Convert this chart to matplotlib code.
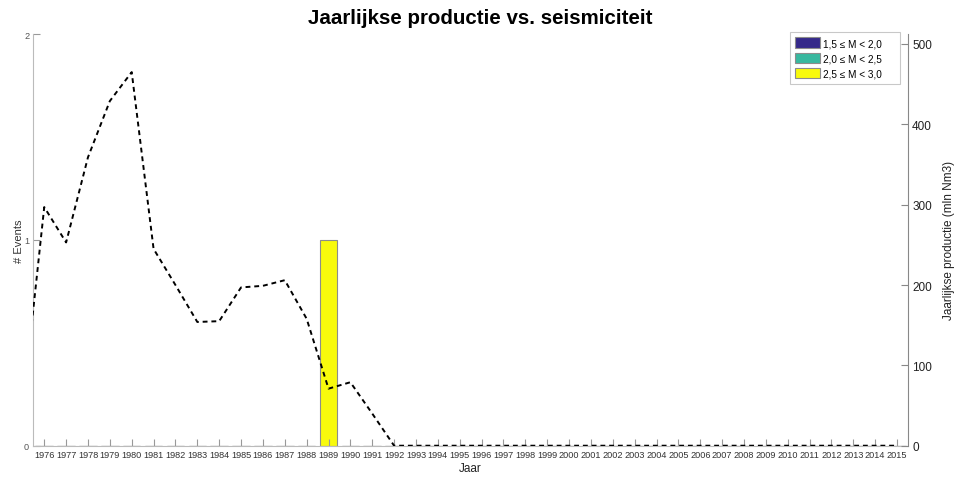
# Jaarlijkse productie vs. seismiciteit - bar + dashed production line

import matplotlib.pyplot as plt
import numpy as np

plt.rcParams['font.family'] = ['Liberation Sans', 'DejaVu Sans']

# ================================================== Data ============================================================
years = list(range(1975, 2016))
productie = [43, 297, 253, 359, 429, 465, 245, 200, 154, 155, 197, 199, 206, 158, 71, 79, 40] + [0] * 24

event_years = list(range(1976, 2016))
m15_20 = [0] * 40
m20_25 = [0] * 40
m25_30 = [0] * 40
m25_30[event_years.index(1989)] = 1

klassen = ['1,5 \u2264 M < 2,0', '2,0 \u2264 M < 2,5', '2,5 \u2264 M < 3,0']
kleuren = ['#35298a', '#38b89f', '#f8fa0c']

# ================================================== Plot ============================================================
fig = plt.figure(figsize=(9.6, 4.81), dpi=100)
ax = fig.add_axes([0.0347, 0.0713, 0.9111, 0.8559])

bottom = np.zeros(len(event_years))
handles = []
for vals, kleur, naam in zip([m15_20, m20_25, m25_30], kleuren, klassen):
    vals = np.array(vals, dtype=float)
    h = ax.bar(event_years, vals, width=0.8, bottom=bottom, color=kleur,
               edgecolor='#8c8c8c', linewidth=0.8, label=naam)
    handles.append(h)
    bottom += vals

ax.set_xlim(1975.5, 2015.5)
ax.set_ylim(0, 2)
ax.set_xticks(event_years)
ax.set_xticklabels([str(y) for y in event_years], fontsize=6.6, color='#333333')
ax.set_yticks([0, 1, 2])
ax.set_yticklabels(['0', '1', '2'], fontsize=6.6, color='#555555')
ax.tick_params(axis='x', direction='in', length=5, color='#999999', pad=3)
ax.tick_params(axis='y', direction='in', length=5, color='#999999', pad=3)
ax.set_ylabel('# Events', fontsize=8, color='#333333', labelpad=0)
ax.set_xlabel('Jaar', fontsize=8.5, color='#222222', labelpad=2)
for s in ['top', 'right']:
    ax.spines[s].set_visible(False)
ax.spines['left'].set_color('#bbbbbb')
ax.spines['bottom'].set_color('#bbbbbb')

ax2 = ax.twinx()
ax2.plot(years, productie, color='black', linestyle=(0, (2.5, 2)), linewidth=1.4)
ax2.set_ylim(0, 512.4)
ax2.set_yticks([0, 100, 200, 300, 400, 500])
ax2.set_yticklabels(['0', '100', '200', '300', '400', '500'], fontsize=8.5, color='#222222')
ax2.tick_params(axis='y', direction='in', length=5, color='#888888', pad=3)
ax2.set_ylabel('Jaarlijkse productie (mln Nm3)', fontsize=8.5, color='#222222', labelpad=8)
for s in ['top', 'left', 'bottom']:
    ax2.spines[s].set_visible(False)
ax2.spines['right'].set_color('#888888')

leg = ax2.legend(handles=handles, labels=klassen, loc='upper left', mode='expand', fontsize=7.2,
                 frameon=True, fancybox=False, edgecolor='#bbbbbb', handlelength=2.5,
                 handleheight=1.25, borderpad=0.55, labelspacing=0.45, handletextpad=0.3,
                 borderaxespad=0, bbox_to_anchor=(0.865, 0.5, 0.126, 0.505))
leg.get_frame().set_linewidth(0.8)

fig.text(0.5, 0.962, 'Jaarlijkse productie vs. seismiciteit', fontsize=14.8,
         fontweight='bold', ha='center', va='center')

fig.savefig('out.png', dpi=100)
